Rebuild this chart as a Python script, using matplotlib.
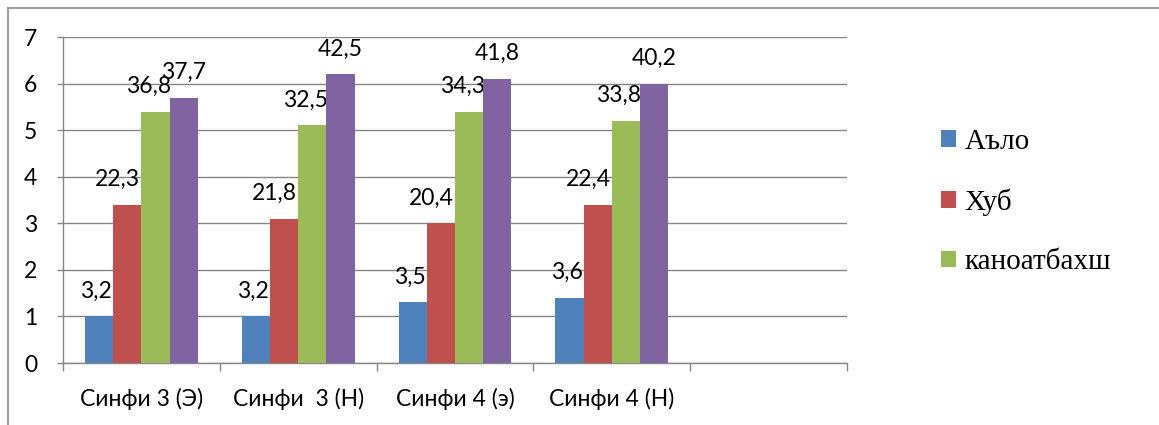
import matplotlib
matplotlib.use('Agg')
import matplotlib.pyplot as plt
from matplotlib.lines import Line2D
import numpy as np

kategoriyaho = ['Синфи 3 (Э)', 'Синфи  3 (Н)', 'Синфи 4 (э)', 'Синфи 4 (Н)', '']
silsila = ['Аъло', 'Хуб', 'каноатбахш', '']
qimat_alo = [1.0, 1.0, 1.3, 1.4]
qimat_hub = [3.4, 3.1, 3.0, 3.4]
qimat_kanoat = [5.4, 5.1, 5.4, 5.2]
qimat_4 = [5.7, 6.2, 6.1, 6.0]
nishona_alo = ['3,2', '3,2', '3,5', '3,6']
nishona_hub = ['22,3', '21,8', '20,4', '22,4']
nishona_kanoat = ['36,8', '32,5', '34,3', '33,8']
nishona_4 = ['37,7', '42,5', '41,8', '40,2']

ranglar = ['#4F81BD', '#C0504D', '#9BBB59', '#8064A2']
label_dx = [-2, -7, -5, 0]   # small horizontal shifts of the value labels (points)

plt.rcParams['font.family'] = ['Lato', 'DejaVu Sans']
fs = 16.5

W, H = 1159, 425
fig = plt.figure(figsize=(W / 100, H / 100), dpi=100)
ax = fig.add_axes([63 / W, 1 - 363 / H, (847 - 63) / W, (363 - 37) / H])

x = np.arange(len(kategoriyaho))
n = len(qimat_alo)
w = 0.18
seriyaho = [qimat_alo, qimat_hub, qimat_kanoat, qimat_4]
nishonaho = [nishona_alo, nishona_hub, nishona_kanoat, nishona_4]

bars = []
for i, (vals, labs) in enumerate(zip(seriyaho, nishonaho)):
    pos = x[:n] + (i - 1.5) * w
    b = ax.bar(pos, vals, w, color=ranglar[i], zorder=3, linewidth=0)
    bars.append(b)
    for rect, lab in zip(b, labs):
        ax.annotate(lab, xy=(rect.get_x() + rect.get_width() / 2, rect.get_height()),
                    xytext=(label_dx[i], 13.5), textcoords='offset points',
                    ha='center', va='baseline', fontsize=fs, color='black')

ax.set_xlim(-0.5, len(kategoriyaho) - 0.5)
ax.set_ylim(0, 7)
ax.set_yticks(range(0, 8))
ax.yaxis.grid(True, color='#868686', linewidth=1.0, zorder=0)
ax.set_axisbelow(True)

ax.set_xticks(x)
ax.set_xticklabels(kategoriyaho)
ax.set_xticks(np.arange(-0.5, len(kategoriyaho)), minor=True)
ax.tick_params(axis='x', which='major', length=0, pad=18, labelsize=fs)
ax.tick_params(axis='x', which='minor', length=6, width=1.0, color='#868686', direction='out')
ax.tick_params(axis='y', length=4.5, width=1.0, color='#868686', pad=14, labelsize=fs)

for s in ['top', 'right']:
    ax.spines[s].set_visible(False)
for s in ['left', 'bottom']:
    ax.spines[s].set_color('#868686')
    ax.spines[s].set_linewidth(1.0)

fig.legend(handles=bars[:3], labels=silsila[:3], loc='center left',
           bbox_to_anchor=(941 / W, 1 - 202 / H), frameon=False,
           prop={'family': 'Liberation Serif', 'size': 21},
           handlelength=0.5, handleheight=0.5, handletextpad=0.3,
           labelspacing=1.15, borderpad=0, borderaxespad=0)

# outer chart border (top and left edges only visible)
fig.add_artist(Line2D([8 / W, 8 / W], [0, 1 - 8 / H], transform=fig.transFigure,
                      color='#8c8c8c', linewidth=1.2))
fig.add_artist(Line2D([8 / W, 1], [1 - 8 / H, 1 - 8 / H], transform=fig.transFigure,
                      color='#8c8c8c', linewidth=1.2))

plt.savefig('out.png', dpi=100)
plt.close()
